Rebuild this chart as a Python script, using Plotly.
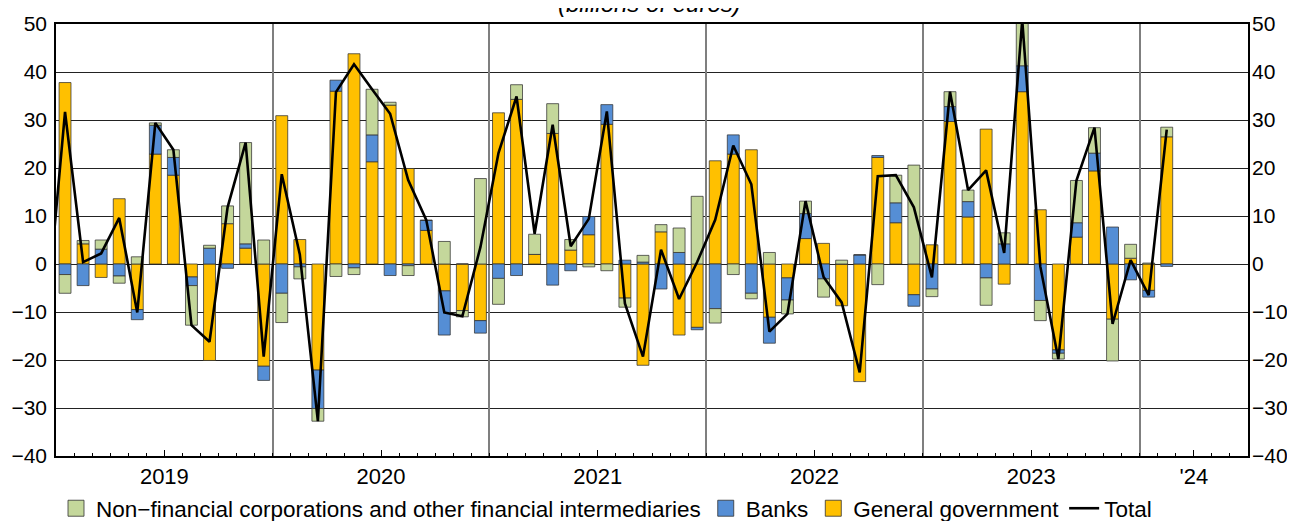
import plotly.graph_objects as go

# Monthly data, Jan 2019 .. Feb 2024 (billions of euros)
months = [f"{y}-{m:02d}" for y in range(2019, 2025) for m in range(1, 13)][:62]

general_government = [
    37.8, 4.2, -2.8, 13.6, -9.5, 22.9, 18.5, -2.7, -20.1, 8.4, 3.3, -21.3,
    30.9, 5.1, -22.1, 36.0, 43.8, 21.3, 33.1, 19.9, 7.0, -5.6, -9.7, -11.8,
    31.5, 34.3, 2.0, 27.2, 2.9, 6.1, 29.1, -7.1, -21.1, 6.7, -14.8, -13.2,
    21.5, 22.9, 23.8, -11.1, -2.9, 5.3, 4.3, -8.7, -24.5, 22.2, 8.6, -6.4,
    4.0, 29.7, 9.8, 28.1, -4.2, 35.9, 11.3, -17.9, 5.6, 19.4, -11.5, 1.2,
    -5.5, 26.5,
]
banks = [
    -2.2, -4.5, 3.1, -2.5, -2.1, 6.0, 3.7, -1.8, 3.3, -0.9, 0.9, -2.95,
    -6.1, -0.6, -8.0, 2.3, -0.8, 5.6, -2.4, -0.35, 2.1, -9.2, 0.0, -2.6,
    -3.0, -2.4, 0.0, -4.4, -1.4, 3.8, 4.1, 0.8, 0.4, -5.2, 2.4, -0.5,
    -9.3, 4.0, -6.1, -5.4, -4.6, 5.2, -3.1, 0.0, 1.9, 0.4, 4.15, -2.4,
    -5.2, 3.1, 3.2, -2.9, 4.2, 5.4, -7.6, -0.7, 3.0, 3.7, 7.7, -3.3,
    -1.4, -0.5,
]
nfc_ofi = [
    -3.9, 0.7, 1.9, -1.5, 1.5, 0.5, 1.6, -8.25, 0.6, 3.7, 21.1, 5.0,
    -6.1, -2.5, -2.65, -2.6, -1.4, 9.5, 0.6, -2.05, 0.0, 4.7, -1.3, 17.8,
    -5.4, 3.05, 4.2, 6.2, 2.2, -0.6, -1.4, -1.9, 1.4, 1.5, 5.1, 14.1,
    -3.0, -2.2, -1.15, 2.4, -2.9, 2.6, -3.8, 0.8, 0.0, -4.3, 5.75, 20.6,
    -1.6, 3.1, 2.4, -5.7, 2.3, 9.5, -4.2, -1.2, 8.8, 5.3, -8.7, 2.9,
    0.2, 2.0,
]
# Total includes Dec 2018 (clipped at the left edge)
total_months = ["2018-12"] + months
total = [
    -10.0,
    31.7, 0.4, 2.2, 9.6, -10.1, 29.4, 23.8, -12.75, -16.2, 11.8, 25.3, -19.3,
    18.7, 2.0, -32.75, 35.8, 41.6, 36.4, 31.3, 17.5, 9.2, -10.1, -10.9, 3.5,
    23.1, 34.9, 6.3, 29.0, 3.7, 9.4, 31.8, -8.2, -19.3, 3.0, -7.3, 0.4,
    9.2, 24.7, 16.6, -14.1, -10.4, 13.1, -2.7, -8.0, -22.6, 18.3, 18.5, 11.8,
    -2.8, 35.9, 15.4, 19.5, 2.3, 50.8, -0.5, -19.8, 17.4, 28.4, -12.5, 0.8,
    -6.5, 28.0,
]

year_labels = ["2019", "2020", "2021", "2022", "2023", "'24"]
year_label_pos = [5.5, 17.5, 29.5, 41.5, 53.5, 62.5]
year_bounds = [11.5, 23.5, 35.5, 47.5, 59.5]

NFC_NAME = "Non\u2212financial corporations and other financial intermediaries"


def month_index(s):
    y, m = s.split("-")
    return (int(y) - 2019) * 12 + int(m) - 1


x_bars = [month_index(m) for m in months]
x_total = [month_index(m) for m in total_months]

GREEN = "#C4D79B"
BLUE = "#558ED5"
YELLOW = "#FFC000"
OUTLINE = dict(color="rgba(50,50,50,0.75)", width=1)
FONT = "Liberation Sans, Arial, sans-serif"

fig = go.Figure()
bar_specs = [
    (general_government, "General government", YELLOW, 3),
    (banks, "Banks", BLUE, 2),
    (nfc_ofi, NFC_NAME, GREEN, 1),
]
for vals, name, col, rank in bar_specs:
    fig.add_trace(go.Bar(x=x_bars, y=vals, name=name, legendgroup=name,
                         marker=dict(color=col, line=OUTLINE), width=0.66,
                         showlegend=False))
    # legend entry with a larger square swatch
    fig.add_trace(go.Scatter(x=[None], y=[None], mode="markers", name=name,
                             legendgroup=name, legendrank=rank,
                             marker=dict(symbol="square", size=16, color=col,
                                         line=dict(color="rgba(50,50,50,0.8)", width=1))))

fig.add_trace(go.Scatter(x=x_total, y=total, name="Total", mode="lines",
                         line=dict(color="black", width=2.6),
                         xaxis="x2", yaxis="y2", legendrank=4))

fig.update_layout(
    width=1287, height=513,
    margin=dict(l=48, r=47, t=16, b=65, autoexpand=False),
    paper_bgcolor="white", plot_bgcolor="white",
    barmode="relative",
    font=dict(family=FONT, size=21, color="black"),
    showlegend=True,
    legend=dict(orientation="h", x=0.0, xanchor="left", y=-0.072, yanchor="top",
                font=dict(size=22.5), traceorder="normal", itemwidth=30,
                bgcolor="rgba(0,0,0,0)", itemsizing="trace"),
    xaxis=dict(range=[-0.5, 65.5], tickmode="array", tickvals=year_label_pos,
               ticktext=year_labels, ticks="inside", ticklen=6, tickcolor="black",
               tickfont=dict(size=22),
               showgrid=False, zeroline=False, showline=True, linecolor="black",
               linewidth=1.5, mirror=True, automargin=False,
               minor=dict(tickmode="linear", tick0=-0.5, dtick=1, ticks="inside",
                          ticklen=3, tickcolor="black", showgrid=False)),
    xaxis2=dict(range=[-0.5, 65.5], overlaying="x", matches="x", tickmode="array",
                tickvals=year_bounds, showticklabels=False, ticks="",
                showgrid=True, gridcolor="#7f7f7f", gridwidth=1.5, zeroline=False,
                automargin=False),
    yaxis=dict(range=[-40, 50], dtick=10, tick0=0, showgrid=True, gridcolor="#222222",
               gridwidth=1, zeroline=True, zerolinecolor="#222222", zerolinewidth=1,
               showline=True, linecolor="black", linewidth=1.5, mirror=True, ticks="",
               ticklabelstandoff=3, automargin=False),
    yaxis2=dict(range=[-40, 50], dtick=10, tick0=0, overlaying="y", side="right",
                matches="y", showgrid=False, zeroline=False, ticks="",
                ticklabelstandoff=3, automargin=False),
    annotations=[dict(text="(billions of euros)", xref="paper", yref="paper",
                      x=0.498, y=1.011, xanchor="center", yanchor="bottom",
                      showarrow=False, font=dict(size=24, style="italic"))],
)

fig.write_html("out.html")
